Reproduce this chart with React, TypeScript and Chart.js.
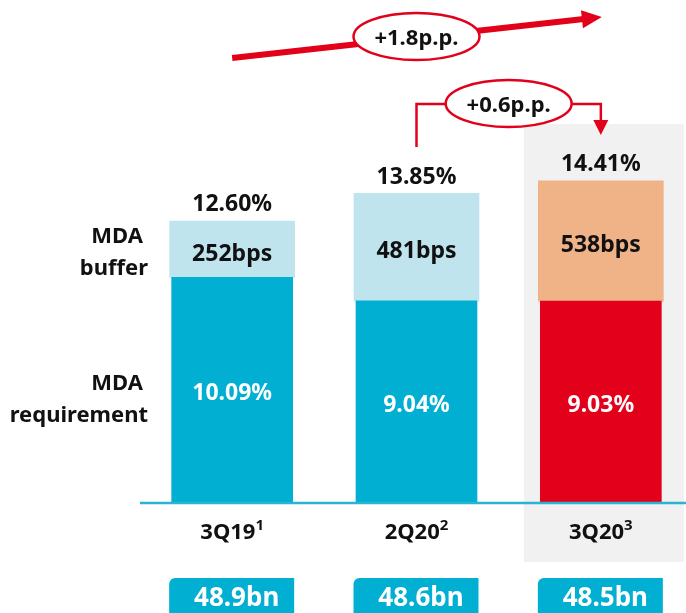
import { useEffect, useRef } from 'react';
import { Chart, registerables } from 'chart.js';

Chart.register(...registerables);

// Quarter labels and their footnote markers
const categories = ['3Q19', '2Q20', '3Q20'];
const footnotes = ['1', '2', '3'];

// MDA requirement (%), MDA buffer (bps) and the resulting total (%)
const requirementPct = [10.09, 9.04, 9.03];
const bufferBps = [252, 481, 538];
const totalPct = [12.6, 13.85, 14.41];

// Risk-weighted assets, EUR bn
const rwaBn = [48.9, 48.6, 48.5];

// Change in MDA distance, percentage points
const changeYoY = 1.8;
const changeQoQ = 0.6;

const TEAL = '#00AFD1';
const LIGHT_TEAL = '#C0E4EE';
const RED = '#E2001A';
const ORANGE = '#F0B387';
const GREY = '#F1F1F1';
const LINE = '#29B4D2';
const INK = '#111111';
const FONT = '"Noto Sans", "DejaVu Sans", sans-serif';

const font = (size: number, weight = 'bold') => `${weight} ${size}px ${FONT}`;

// Draws text so that the digit/cap height is centred on y
function centredText(ctx: CanvasRenderingContext2D, text: string, x: number, y: number, size: number, color: string, align: CanvasTextAlign = 'center') {
  ctx.font = font(size);
  ctx.fillStyle = color;
  ctx.textAlign = align;
  ctx.textBaseline = 'alphabetic';
  ctx.fillText(text, x, y + size * 0.36);
}

function ellipseLabel(ctx: CanvasRenderingContext2D, cx: number, cy: number, text: string) {
  ctx.beginPath();
  ctx.ellipse(cx, cy, 63, 23.5, 0, 0, Math.PI * 2);
  ctx.fillStyle = '#FFFFFF';
  ctx.fill();
  ctx.lineWidth = 2.5;
  ctx.strokeStyle = RED;
  ctx.stroke();
  centredText(ctx, text, cx, cy + 0.5, 22, INK);
}

const decorations = {
  id: 'mdaDecorations',
  beforeDatasetsDraw(chart: any) {
    const ctx: CanvasRenderingContext2D = chart.ctx;
    const last = chart.getDatasetMeta(0).data[categories.length - 1];
    ctx.save();
    ctx.fillStyle = GREY;
    ctx.fillRect(last.x - 77, 124, 160, 438);
    ctx.restore();
  },
  afterDatasetsDraw(chart: any) {
    const ctx: CanvasRenderingContext2D = chart.ctx;
    const req = chart.getDatasetMeta(0).data;
    const buf = chart.getDatasetMeta(1).data;
    const yBase = chart.scales.y.getPixelForValue(0);
    ctx.save();

    // axis line
    ctx.beginPath();
    ctx.moveTo(chart.chartArea.left, yBase);
    ctx.lineTo(chart.width, yBase);
    ctx.lineWidth = 2.5;
    ctx.strokeStyle = LINE;
    ctx.stroke();

    // row captions
    centredText(ctx, 'MDA', 143, 235, 22, INK, 'right');
    centredText(ctx, 'buffer', 148, 267, 22, INK, 'right');
    centredText(ctx, 'MDA', 143, 382, 22, INK, 'right');
    centredText(ctx, 'requirement', 148, 414, 22, INK, 'right');

    categories.forEach((cat, j) => {
      const r = req[j];
      const b = buf[j];
      const x = r.x;
      centredText(ctx, `${requirementPct[j].toFixed(2)}%`, x, (r.y + r.base) / 2 + 2, 23, '#FFFFFF');
      centredText(ctx, `${bufferBps[j]}bps`, x, (b.y + b.base) / 2 + 3, 23, INK);
      centredText(ctx, `${totalPct[j].toFixed(2)}%`, x, b.y - 18, 23, INK);

      // category label with footnote superscript
      ctx.font = font(22);
      const wMain = ctx.measureText(cat).width;
      ctx.font = font(15);
      const wSup = ctx.measureText(footnotes[j]).width;
      const start = x - (wMain + wSup) / 2;
      ctx.textAlign = 'left';
      ctx.textBaseline = 'alphabetic';
      ctx.fillStyle = INK;
      ctx.font = font(22);
      ctx.fillText(cat, start, 539);
      ctx.font = font(15);
      ctx.fillText(footnotes[j], start + wMain, 530);

      // RWA box
      const left = x - 63;
      const top = 578;
      const w = 125;
      ctx.beginPath();
      (ctx as any).roundRect(left, top, w, 50, [6, 0, 0, 0]);
      ctx.fillStyle = TEAL;
      ctx.fill();
      centredText(ctx, `${rwaBn[j].toFixed(1)}bn`, left + w / 2 + 5, 597, 26, '#FFFFFF');
    });

    // year-on-year arrow
    const x0 = req[0].x;
    const x1 = req[1].x;
    const x2 = req[2].x;
    const tail = { x: x0, y: 58 };
    const tip = { x: x2 + 1, y: 17 };
    const ang = Math.atan2(tip.y - tail.y, tip.x - tail.x);
    const headLen = 20;
    const bx = tip.x - headLen * Math.cos(ang);
    const by = tip.y - headLen * Math.sin(ang);
    ctx.beginPath();
    ctx.moveTo(tail.x, tail.y);
    ctx.lineTo(bx + 2 * Math.cos(ang), by + 2 * Math.sin(ang));
    ctx.lineWidth = 6;
    ctx.strokeStyle = RED;
    ctx.lineCap = 'butt';
    ctx.stroke();
    ctx.beginPath();
    ctx.moveTo(tip.x, tip.y);
    ctx.lineTo(bx + 9 * Math.sin(ang), by - 9 * Math.cos(ang));
    ctx.lineTo(bx - 9 * Math.sin(ang), by + 9 * Math.cos(ang));
    ctx.closePath();
    ctx.fillStyle = RED;
    ctx.fill();
    ellipseLabel(ctx, x1, 36.5, `+${changeYoY.toFixed(1)}p.p.`);

    // quarter-on-quarter bracket
    const midX = (x1 + x2) / 2;
    ctx.beginPath();
    ctx.moveTo(x1, 147);
    ctx.lineTo(x1, 104);
    ctx.lineTo(midX - 60, 104);
    ctx.moveTo(midX + 60, 104);
    ctx.lineTo(x2, 104);
    ctx.lineTo(x2, 122);
    ctx.lineWidth = 2.5;
    ctx.strokeStyle = RED;
    ctx.stroke();
    ctx.beginPath();
    ctx.moveTo(x2 - 7.5, 120);
    ctx.lineTo(x2 + 7.5, 120);
    ctx.lineTo(x2, 135);
    ctx.closePath();
    ctx.fillStyle = RED;
    ctx.fill();
    ellipseLabel(ctx, midX, 103.5, `+${changeQoQ.toFixed(1)}p.p.`);

    ctx.restore();
  },
};

export default function App() {
  const canvasRef = useRef<HTMLCanvasElement | null>(null);

  useEffect(() => {
    const canvas = canvasRef.current;
    if (!canvas) return;
    const chart = new Chart(canvas, {
      type: 'bar',
      data: {
        labels: categories,
        datasets: [
          {
            label: 'MDA requirement',
            data: requirementPct,
            backgroundColor: [TEAL, TEAL, RED],
            barThickness: 121,
            borderWidth: 0,
          },
          {
            label: 'MDA buffer',
            data: bufferBps.map((v) => v / 100),
            backgroundColor: [LIGHT_TEAL, LIGHT_TEAL, ORANGE],
            barThickness: 125,
            borderWidth: 0,
          },
        ],
      },
      options: {
        responsive: false,
        animation: false,
        devicePixelRatio: 1,
        layout: { padding: { left: 140, right: 0, top: 0, bottom: 110 } },
        plugins: {
          legend: { display: false },
          tooltip: { enabled: false },
        },
        scales: {
          x: { stacked: true, display: false },
          y: { stacked: true, display: false, min: 0, max: 22.5 },
        },
      },
      plugins: [decorations],
    });
    return () => chart.destroy();
  }, []);

  return (
    <div
      style={{
        position: 'absolute',
        left: 0,
        top: 0,
        width: 686,
        height: 613,
        overflow: 'hidden',
        background: '#FFFFFF',
      }}
    >
      <canvas ref={canvasRef} width={693} height={613} style={{ display: 'block' }} />
    </div>
  );
}
